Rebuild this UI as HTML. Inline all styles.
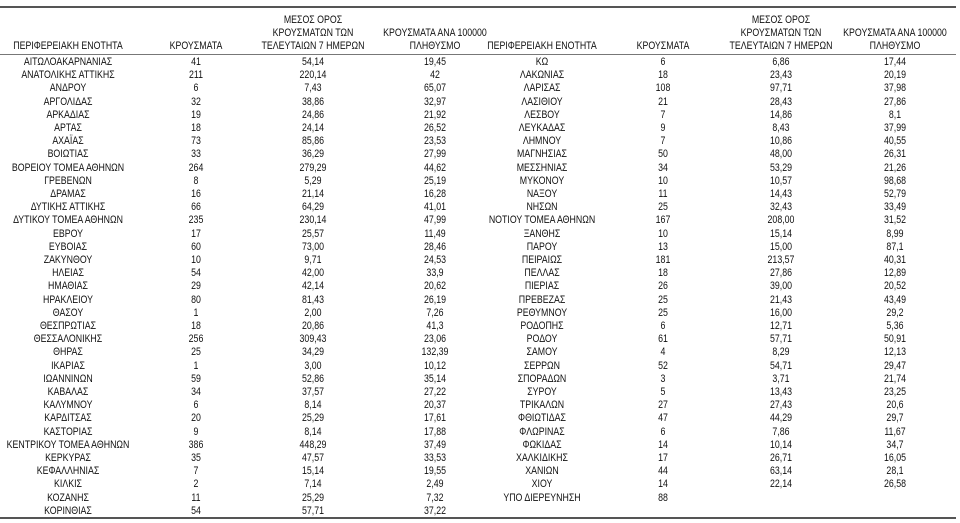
<!DOCTYPE html>
<html><head><meta charset="utf-8"><style>
html,body{margin:0;padding:0;background:#fff;}
#w{position:relative;width:960px;height:523px;overflow:hidden;font-family:"Liberation Sans","DejaVu Sans",sans-serif;font-size:11px;color:#111;}
.r{position:absolute;left:0;width:960px;height:14px;line-height:14px;}
.r span{position:absolute;top:0;white-space:nowrap;transform:translateX(-50%) scaleX(0.8);}
.a{left:68px}.b{left:196px}.c{left:313px}.d{left:435px}
.e{left:542px}.f{left:663px}.g{left:781px}.h{left:895px}
.ln{position:absolute;left:0;width:956px;}
</style></head><body><div id="w">
<div class="ln" style="top:6px;height:2px;background:#555"></div>
<div class="ln" style="top:54px;height:1px;background:#777"></div>
<div class="ln" style="top:517px;height:2px;background:#555"></div>
<div class="r" style="top:13px"><span class="c">ΜΕΣΟΣ ΟΡΟΣ</span><span class="g">ΜΕΣΟΣ ΟΡΟΣ</span></div>
<div class="r" style="top:26px"><span class="c">ΚΡΟΥΣΜΑΤΩΝ ΤΩΝ</span><span class="d">ΚΡΟΥΣΜΑΤΑ ΑΝΑ 100000</span><span class="g">ΚΡΟΥΣΜΑΤΩΝ ΤΩΝ</span><span class="h">ΚΡΟΥΣΜΑΤΑ ΑΝΑ 100000</span></div>
<div class="r" style="top:39px"><span class="a">ΠΕΡΙΦΕΡΕΙΑΚΗ ΕΝΟΤΗΤΑ</span><span class="b">ΚΡΟΥΣΜΑΤΑ</span><span class="c">ΤΕΛΕΥΤΑΙΩΝ 7 ΗΜΕΡΩΝ</span><span class="d">ΠΛΗΘΥΣΜΟ</span><span class="e">ΠΕΡΙΦΕΡΕΙΑΚΗ ΕΝΟΤΗΤΑ</span><span class="f">ΚΡΟΥΣΜΑΤΑ</span><span class="g">ΤΕΛΕΥΤΑΙΩΝ 7 ΗΜΕΡΩΝ</span><span class="h">ΠΛΗΘΥΣΜΟ</span></div>
<div class="r" style="top:55px"><span class="a">ΑΙΤΩΛΟΑΚΑΡΝΑΝΙΑΣ</span><span class="b">41</span><span class="c">54,14</span><span class="d">19,45</span><span class="e">ΚΩ</span><span class="f">6</span><span class="g">6,86</span><span class="h">17,44</span></div>
<div class="r" style="top:68.2px"><span class="a">ΑΝΑΤΟΛΙΚΗΣ ΑΤΤΙΚΗΣ</span><span class="b">211</span><span class="c">220,14</span><span class="d">42</span><span class="e">ΛΑΚΩΝΙΑΣ</span><span class="f">18</span><span class="g">23,43</span><span class="h">20,19</span></div>
<div class="r" style="top:81.4px"><span class="a">ΑΝΔΡΟΥ</span><span class="b">6</span><span class="c">7,43</span><span class="d">65,07</span><span class="e">ΛΑΡΙΣΑΣ</span><span class="f">108</span><span class="g">97,71</span><span class="h">37,98</span></div>
<div class="r" style="top:94.6px"><span class="a">ΑΡΓΟΛΙΔΑΣ</span><span class="b">32</span><span class="c">38,86</span><span class="d">32,97</span><span class="e">ΛΑΣΙΘΙΟΥ</span><span class="f">21</span><span class="g">28,43</span><span class="h">27,86</span></div>
<div class="r" style="top:107.8px"><span class="a">ΑΡΚΑΔΙΑΣ</span><span class="b">19</span><span class="c">24,86</span><span class="d">21,92</span><span class="e">ΛΕΣΒΟΥ</span><span class="f">7</span><span class="g">14,86</span><span class="h">8,1</span></div>
<div class="r" style="top:121px"><span class="a">ΑΡΤΑΣ</span><span class="b">18</span><span class="c">24,14</span><span class="d">26,52</span><span class="e">ΛΕΥΚΑΔΑΣ</span><span class="f">9</span><span class="g">8,43</span><span class="h">37,99</span></div>
<div class="r" style="top:134.2px"><span class="a">ΑΧΑΪΑΣ</span><span class="b">73</span><span class="c">85,86</span><span class="d">23,53</span><span class="e">ΛΗΜΝΟΥ</span><span class="f">7</span><span class="g">10,86</span><span class="h">40,55</span></div>
<div class="r" style="top:147.4px"><span class="a">ΒΟΙΩΤΙΑΣ</span><span class="b">33</span><span class="c">36,29</span><span class="d">27,99</span><span class="e">ΜΑΓΝΗΣΙΑΣ</span><span class="f">50</span><span class="g">48,00</span><span class="h">26,31</span></div>
<div class="r" style="top:160.6px"><span class="a">ΒΟΡΕΙΟΥ ΤΟΜΕΑ ΑΘΗΝΩΝ</span><span class="b">264</span><span class="c">279,29</span><span class="d">44,62</span><span class="e">ΜΕΣΣΗΝΙΑΣ</span><span class="f">34</span><span class="g">53,29</span><span class="h">21,26</span></div>
<div class="r" style="top:173.8px"><span class="a">ΓΡΕΒΕΝΩΝ</span><span class="b">8</span><span class="c">5,29</span><span class="d">25,19</span><span class="e">ΜΥΚΟΝΟΥ</span><span class="f">10</span><span class="g">10,57</span><span class="h">98,68</span></div>
<div class="r" style="top:187px"><span class="a">ΔΡΑΜΑΣ</span><span class="b">16</span><span class="c">21,14</span><span class="d">16,28</span><span class="e">ΝΑΞΟΥ</span><span class="f">11</span><span class="g">14,43</span><span class="h">52,79</span></div>
<div class="r" style="top:200.2px"><span class="a">ΔΥΤΙΚΗΣ ΑΤΤΙΚΗΣ</span><span class="b">66</span><span class="c">64,29</span><span class="d">41,01</span><span class="e">ΝΗΣΩΝ</span><span class="f">25</span><span class="g">32,43</span><span class="h">33,49</span></div>
<div class="r" style="top:213.4px"><span class="a">ΔΥΤΙΚΟΥ ΤΟΜΕΑ ΑΘΗΝΩΝ</span><span class="b">235</span><span class="c">230,14</span><span class="d">47,99</span><span class="e">ΝΟΤΙΟΥ ΤΟΜΕΑ ΑΘΗΝΩΝ</span><span class="f">167</span><span class="g">208,00</span><span class="h">31,52</span></div>
<div class="r" style="top:226.6px"><span class="a">ΕΒΡΟΥ</span><span class="b">17</span><span class="c">25,57</span><span class="d">11,49</span><span class="e">ΞΑΝΘΗΣ</span><span class="f">10</span><span class="g">15,14</span><span class="h">8,99</span></div>
<div class="r" style="top:239.8px"><span class="a">ΕΥΒΟΙΑΣ</span><span class="b">60</span><span class="c">73,00</span><span class="d">28,46</span><span class="e">ΠΑΡΟΥ</span><span class="f">13</span><span class="g">15,00</span><span class="h">87,1</span></div>
<div class="r" style="top:253px"><span class="a">ΖΑΚΥΝΘΟΥ</span><span class="b">10</span><span class="c">9,71</span><span class="d">24,53</span><span class="e">ΠΕΙΡΑΙΩΣ</span><span class="f">181</span><span class="g">213,57</span><span class="h">40,31</span></div>
<div class="r" style="top:266.2px"><span class="a">ΗΛΕΙΑΣ</span><span class="b">54</span><span class="c">42,00</span><span class="d">33,9</span><span class="e">ΠΕΛΛΑΣ</span><span class="f">18</span><span class="g">27,86</span><span class="h">12,89</span></div>
<div class="r" style="top:279.4px"><span class="a">ΗΜΑΘΙΑΣ</span><span class="b">29</span><span class="c">42,14</span><span class="d">20,62</span><span class="e">ΠΙΕΡΙΑΣ</span><span class="f">26</span><span class="g">39,00</span><span class="h">20,52</span></div>
<div class="r" style="top:292.6px"><span class="a">ΗΡΑΚΛΕΙΟΥ</span><span class="b">80</span><span class="c">81,43</span><span class="d">26,19</span><span class="e">ΠΡΕΒΕΖΑΣ</span><span class="f">25</span><span class="g">21,43</span><span class="h">43,49</span></div>
<div class="r" style="top:305.8px"><span class="a">ΘΑΣΟΥ</span><span class="b">1</span><span class="c">2,00</span><span class="d">7,26</span><span class="e">ΡΕΘΥΜΝΟΥ</span><span class="f">25</span><span class="g">16,00</span><span class="h">29,2</span></div>
<div class="r" style="top:319px"><span class="a">ΘΕΣΠΡΩΤΙΑΣ</span><span class="b">18</span><span class="c">20,86</span><span class="d">41,3</span><span class="e">ΡΟΔΟΠΗΣ</span><span class="f">6</span><span class="g">12,71</span><span class="h">5,36</span></div>
<div class="r" style="top:332.2px"><span class="a">ΘΕΣΣΑΛΟΝΙΚΗΣ</span><span class="b">256</span><span class="c">309,43</span><span class="d">23,06</span><span class="e">ΡΟΔΟΥ</span><span class="f">61</span><span class="g">57,71</span><span class="h">50,91</span></div>
<div class="r" style="top:345.4px"><span class="a">ΘΗΡΑΣ</span><span class="b">25</span><span class="c">34,29</span><span class="d">132,39</span><span class="e">ΣΑΜΟΥ</span><span class="f">4</span><span class="g">8,29</span><span class="h">12,13</span></div>
<div class="r" style="top:358.6px"><span class="a">ΙΚΑΡΙΑΣ</span><span class="b">1</span><span class="c">3,00</span><span class="d">10,12</span><span class="e">ΣΕΡΡΩΝ</span><span class="f">52</span><span class="g">54,71</span><span class="h">29,47</span></div>
<div class="r" style="top:371.8px"><span class="a">ΙΩΑΝΝΙΝΩΝ</span><span class="b">59</span><span class="c">52,86</span><span class="d">35,14</span><span class="e">ΣΠΟΡΑΔΩΝ</span><span class="f">3</span><span class="g">3,71</span><span class="h">21,74</span></div>
<div class="r" style="top:385px"><span class="a">ΚΑΒΑΛΑΣ</span><span class="b">34</span><span class="c">37,57</span><span class="d">27,22</span><span class="e">ΣΥΡΟΥ</span><span class="f">5</span><span class="g">13,43</span><span class="h">23,25</span></div>
<div class="r" style="top:398.2px"><span class="a">ΚΑΛΥΜΝΟΥ</span><span class="b">6</span><span class="c">8,14</span><span class="d">20,37</span><span class="e">ΤΡΙΚΑΛΩΝ</span><span class="f">27</span><span class="g">27,43</span><span class="h">20,6</span></div>
<div class="r" style="top:411.4px"><span class="a">ΚΑΡΔΙΤΣΑΣ</span><span class="b">20</span><span class="c">25,29</span><span class="d">17,61</span><span class="e">ΦΘΙΩΤΙΔΑΣ</span><span class="f">47</span><span class="g">44,29</span><span class="h">29,7</span></div>
<div class="r" style="top:424.6px"><span class="a">ΚΑΣΤΟΡΙΑΣ</span><span class="b">9</span><span class="c">8,14</span><span class="d">17,88</span><span class="e">ΦΛΩΡΙΝΑΣ</span><span class="f">6</span><span class="g">7,86</span><span class="h">11,67</span></div>
<div class="r" style="top:437.8px"><span class="a">ΚΕΝΤΡΙΚΟΥ ΤΟΜΕΑ ΑΘΗΝΩΝ</span><span class="b">386</span><span class="c">448,29</span><span class="d">37,49</span><span class="e">ΦΩΚΙΔΑΣ</span><span class="f">14</span><span class="g">10,14</span><span class="h">34,7</span></div>
<div class="r" style="top:451px"><span class="a">ΚΕΡΚΥΡΑΣ</span><span class="b">35</span><span class="c">47,57</span><span class="d">33,53</span><span class="e">ΧΑΛΚΙΔΙΚΗΣ</span><span class="f">17</span><span class="g">26,71</span><span class="h">16,05</span></div>
<div class="r" style="top:464.2px"><span class="a">ΚΕΦΑΛΛΗΝΙΑΣ</span><span class="b">7</span><span class="c">15,14</span><span class="d">19,55</span><span class="e">ΧΑΝΙΩΝ</span><span class="f">44</span><span class="g">63,14</span><span class="h">28,1</span></div>
<div class="r" style="top:477.4px"><span class="a">ΚΙΛΚΙΣ</span><span class="b">2</span><span class="c">7,14</span><span class="d">2,49</span><span class="e">ΧΙΟΥ</span><span class="f">14</span><span class="g">22,14</span><span class="h">26,58</span></div>
<div class="r" style="top:490.6px"><span class="a">ΚΟΖΑΝΗΣ</span><span class="b">11</span><span class="c">25,29</span><span class="d">7,32</span><span class="e">ΥΠΟ ΔΙΕΡΕΥΝΗΣΗ</span><span class="f">88</span></div>
<div class="r" style="top:503.8px"><span class="a">ΚΟΡΙΝΘΙΑΣ</span><span class="b">54</span><span class="c">57,71</span><span class="d">37,22</span></div>
</div></body></html>
